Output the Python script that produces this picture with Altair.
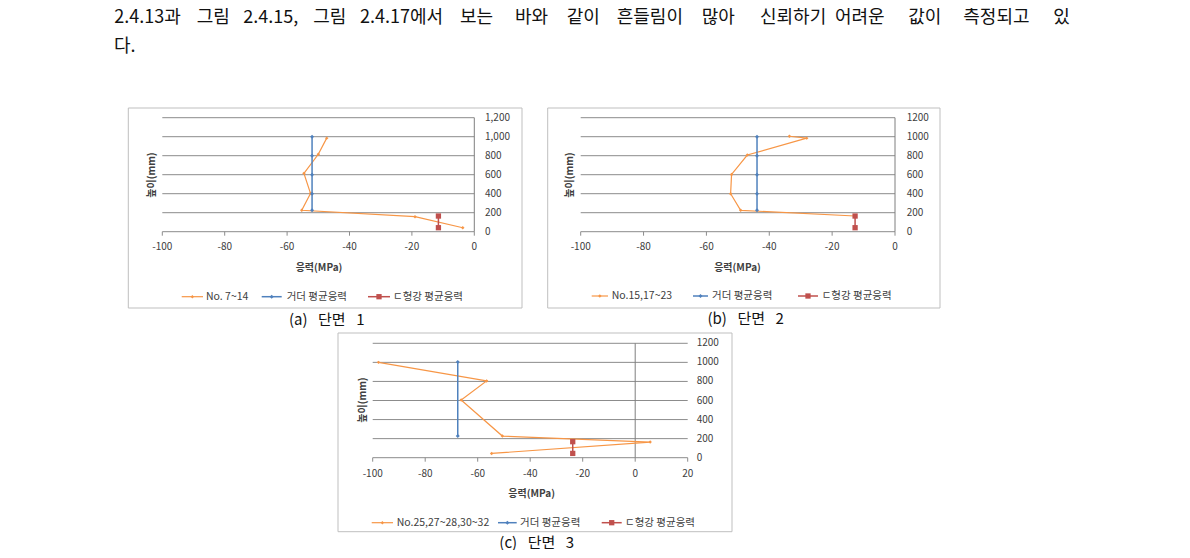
import altair as alt
import pandas as pd

FONT = "Noto Sans CJK KR"
ORANGE = "#F79646"
BLUE = "#4F81BD"
RED = "#C0504D"

# ---------------- data ----------------
Y_TICKS = [0, 200, 400, 600, 800, 1000, 1200]
A_YLABELS = ["0", "200", "400", "600", "800", "1,000", "1,200"]
BC_YLABELS = ["0", "200", "400", "600", "800", "1000", "1200"]
AB_XTICKS = [-100, -80, -60, -40, -20, 0]
C_XTICKS = [-100, -80, -60, -40, -20, 0, 20]

A_NAMES = ["No. 7~14", "거더 평균응력", "ㄷ형강 평균응력"]
A_ORANGE_X = [-47.3, -50.0, -54.6, -52.5, -55.3, -19.0, -3.7]
A_ORANGE_Y = [985, 815, 614, 403, 225, 158, 42]
A_BLUE_X = [-52.0, -52.0, -52.0, -52.0, -52.0]
A_BLUE_Y = [1000, 800, 600, 400, 225]
A_RED_X = [-11.5, -11.5]
A_RED_Y = [165, 42]

B_NAMES = ["No.15,17~23", "거더 평균응력", "ㄷ형강 평균응력"]
B_ORANGE_X = [-33.6, -28.1, -47.0, -52.0, -52.3, -49.1, -12.7]
B_ORANGE_Y = [1005, 985, 807, 603, 400, 225, 165]
B_BLUE_X = [-43.9, -43.9, -43.9, -43.9, -43.9]
B_BLUE_Y = [1000, 800, 600, 400, 225]
B_RED_X = [-12.7, -12.7]
B_RED_Y = [165, 42]

C_NAMES = ["No.25,27~28,30~32", "거더 평균응력", "ㄷ형강 평균응력"]
C_ORANGE_X = [-97.8, -56.6, -66.3, -50.6, 5.7, -54.7]
C_ORANGE_Y = [1000, 805, 605, 227, 164, 45]
C_BLUE_X = [-67.6, -67.6]
C_BLUE_Y = [1005, 227]
C_RED_X = [-23.8, -23.8]
C_RED_Y = [168, 45]

X_TITLE = "응력(MPa)"
Y_TITLE = "높이(mm)"
GAP = "\u2002\u2009"
CAPTIONS = ["(a)" + GAP + "단면" + GAP + "1", "(b)" + GAP + "단면" + GAP + "2",
            "(c)" + GAP + "단면" + GAP + "3"]

HEADER_WORDS = ["2.4.13과", "그림", "2.4.15,", "그림", "2.4.17에서", "보는", "바와", "같이",
                "흔들림이", "많아", "신뢰하기", "어려운", "값이", "측정되고", "있", "다."]

# ---------------- layout (pixels) ----------------
HEADER_X = [106.3, 188.7, 235.3, 305.3, 352, 452, 507, 558.7,
            608.7, 693.7, 752, 827, 900.3, 955.3, 1045.3, 106]
HEADER_Y = [1] * 15 + [30]

PANELS = [
    dict(box=(120.3, 514, 100, 300), xdom=[-100, 0], xr=[154.3, 466.3], yr=[223.7, 109.7],
         ylab_x=477, xlab_y=238.5, xtitle=(311, 260), ytitle=(143.7, 167), leg_y=288.7,
         leg=[(173.7, 195, 198), (253.7, 273.7, 278.7), (360, 382, 385)], cap=(318.7, 316.5)),
    dict(box=(539.7, 932, 100, 300), xdom=[-100, 0], xr=[572.7, 887], yr=[223.7, 109.7],
         ylab_x=898.7, xlab_y=239, xtitle=(729.5, 260.3), ytitle=(562, 167), leg_y=288,
         leg=[(583.7, 600, 603.7), (685, 700, 704), (790, 810, 813.7)], cap=(737.7, 316)),
    dict(box=(330, 724, 325, 523.7), xdom=[-100, 20], xr=[364.7, 679.7], yr=[449.7, 335.3],
         ylab_x=688.7, xlab_y=466, xtitle=(523.7, 486), ytitle=(355.3, 392), leg_y=514.7,
         leg=[(363.7, 385, 388.7), (490, 508.7, 512), (593.7, 613.7, 617)], cap=(528.7, 539.5)),
]

ONE = alt.Data(values=[{}])


def panel(cfg, xticks, ylabels, series, names, caption):
    sx = alt.Scale(domain=cfg["xdom"], range=cfg["xr"], nice=False, zero=False)
    sy = alt.Scale(domain=[0, 1200], range=cfg["yr"], nice=False, zero=False)
    L = []
    bx0, bx1, by0, by1 = cfg["box"]
    L.append(alt.Chart(ONE).mark_rect(fill="white", stroke="#bfbfbf", strokeWidth=1).encode(
        x=alt.value(bx0), x2=alt.value(bx1), y=alt.value(by0), y2=alt.value(by1)))
    grid = pd.DataFrame({"y": Y_TICKS, "x0": cfg["xdom"][0], "x1": cfg["xdom"][1]})
    L.append(alt.Chart(grid).mark_rule(color="#8c8c8c", strokeWidth=1).encode(
        x=alt.X("x0:Q", scale=sx, axis=None), x2="x1:Q",
        y=alt.Y("y:Q", scale=sy, axis=None)))
    vax = pd.DataFrame({"x": [0], "y0": [0], "y1": [1200]})
    L.append(alt.Chart(vax).mark_rule(color="#7f7f7f", strokeWidth=1).encode(
        x=alt.X("x:Q", scale=sx, axis=None),
        y=alt.Y("y0:Q", scale=sy, axis=None), y2="y1:Q"))
    xt = pd.DataFrame({"x": xticks, "y": [0] * len(xticks)})
    L.append(alt.Chart(xt).mark_rule(color="#8c8c8c", strokeWidth=1, y2Offset=4).encode(
        x=alt.X("x:Q", scale=sx, axis=None),
        y=alt.Y("y:Q", scale=sy, axis=None), y2="y:Q"))
    yl = pd.DataFrame({"y": Y_TICKS, "label": ylabels})
    L.append(alt.Chart(yl).mark_text(align="left", baseline="middle", fontSize=10, font=FONT,
                                     color="#404040").encode(
        x=alt.value(cfg["ylab_x"]), y=alt.Y("y:Q", scale=sy, axis=None), text="label:N"))
    xl = pd.DataFrame({"x": xticks, "label": [str(v) for v in xticks]})
    L.append(alt.Chart(xl).mark_text(align="center", baseline="middle", fontSize=10, font=FONT,
                                     color="#404040").encode(
        x=alt.X("x:Q", scale=sx, axis=None), y=alt.value(cfg["xlab_y"]), text="label:N"))
    for (xs, ys, color, shape, size, sw) in series:
        df = pd.DataFrame({"x": xs, "y": ys, "i": list(range(len(xs)))})
        L.append(alt.Chart(df).mark_line(
            color=color, strokeWidth=sw,
            point=alt.OverlayMarkDef(shape=shape, size=size, filled=True, color=color)).encode(
            x=alt.X("x:Q", scale=sx, axis=None), y=alt.Y("y:Q", scale=sy, axis=None),
            order=alt.Order("i:Q")))
    L.append(alt.Chart(ONE).mark_text(text=X_TITLE, fontSize=10, fontWeight="bold", font=FONT,
                                      color="#404040", baseline="middle").encode(
        x=alt.value(cfg["xtitle"][0]), y=alt.value(cfg["xtitle"][1])))
    L.append(alt.Chart(ONE).mark_text(text=Y_TITLE, fontSize=10, fontWeight="bold", font=FONT,
                                      color="#404040", angle=270, baseline="middle").encode(
        x=alt.value(cfg["ytitle"][0]), y=alt.value(cfg["ytitle"][1])))
    leg = pd.DataFrame({
        "x0": [p[0] for p in cfg["leg"]], "x1": [p[1] for p in cfg["leg"]],
        "xm": [(p[0] + p[1]) / 2 for p in cfg["leg"]], "tx": [p[2] for p in cfg["leg"]],
        "name": names, "color": [s[2] for s in series], "shape": [s[3] for s in series],
        "size": [s[4] for s in series], "sw": [s[5] for s in series]})
    ly = cfg["leg_y"]
    L.append(alt.Chart(leg).mark_rule().encode(
        x=alt.X("x0:Q", scale=None, axis=None), x2="x1:Q", y=alt.value(ly),
        color=alt.Color("color:N", scale=None, legend=None),
        strokeWidth=alt.StrokeWidth("sw:Q", scale=None, legend=None)))
    L.append(alt.Chart(leg).mark_point(filled=True, opacity=1).encode(
        x=alt.X("xm:Q", scale=None, axis=None), y=alt.value(ly),
        color=alt.Color("color:N", scale=None, legend=None),
        shape=alt.Shape("shape:N", scale=None, legend=None),
        size=alt.Size("size:Q", scale=None, legend=None)))
    L.append(alt.Chart(leg).mark_text(align="left", baseline="middle", fontSize=10.5, font=FONT,
                                      color="#404040").encode(
        x=alt.X("tx:Q", scale=None, axis=None), y=alt.value(ly), text="name:N"))
    L.append(alt.Chart(ONE).mark_text(text=caption, fontSize=15, font=FONT, color="#111111",
                                      baseline="alphabetic").encode(
        x=alt.value(cfg["cap"][0]), y=alt.value(cfg["cap"][1])))
    return L


layers = []
hdr = pd.DataFrame({"w": HEADER_WORDS, "x": HEADER_X, "y": HEADER_Y})
layers.append(alt.Chart(hdr).mark_text(align="left", baseline="top", fontSize=18, font=FONT,
                                       color="#111111").encode(
    x=alt.X("x:Q", scale=None, axis=None), y=alt.Y("y:Q", scale=None, axis=None), text="w:N"))

layers += panel(PANELS[0], AB_XTICKS, A_YLABELS, [
    (A_ORANGE_X, A_ORANGE_Y, ORANGE, "diamond", 12, 1.2),
    (A_BLUE_X, A_BLUE_Y, BLUE, "diamond", 16, 1.5),
    (A_RED_X, A_RED_Y, RED, "square", 28, 1.5)], A_NAMES, CAPTIONS[0])
layers += panel(PANELS[1], AB_XTICKS, BC_YLABELS, [
    (B_ORANGE_X, B_ORANGE_Y, ORANGE, "diamond", 12, 1.2),
    (B_BLUE_X, B_BLUE_Y, BLUE, "diamond", 16, 1.5),
    (B_RED_X, B_RED_Y, RED, "square", 28, 1.5)], B_NAMES, CAPTIONS[1])
layers += panel(PANELS[2], C_XTICKS, BC_YLABELS, [
    (C_ORANGE_X, C_ORANGE_Y, ORANGE, "diamond", 12, 1.2),
    (C_BLUE_X, C_BLUE_Y, BLUE, "diamond", 16, 1.5),
    (C_RED_X, C_RED_Y, RED, "square", 28, 1.5)], C_NAMES, CAPTIONS[2])

chart = alt.layer(*layers).resolve_scale(
    x="independent", y="independent", color="independent",
    shape="independent", size="independent", strokeWidth="independent"
).properties(width=1174, height=542, padding=0, autosize="none").configure_view(stroke=None)

chart.save("out.html", embed_options={"renderer": "svg", "actions": False})
